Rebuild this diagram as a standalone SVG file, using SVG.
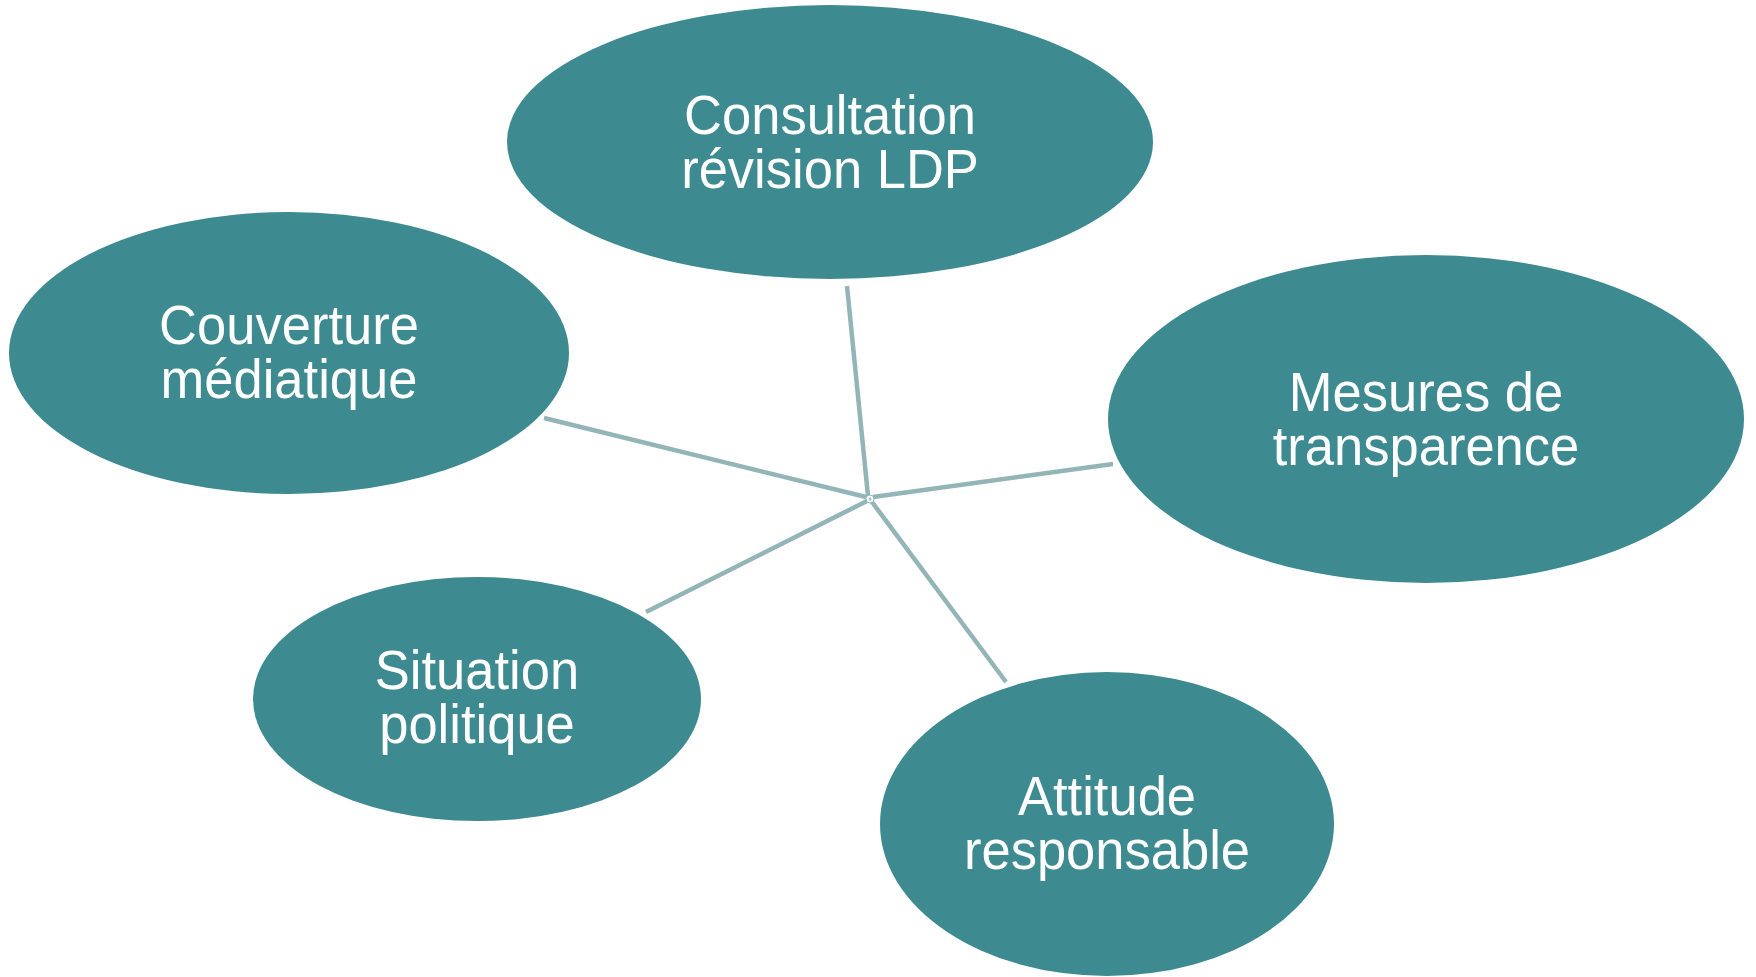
<svg xmlns="http://www.w3.org/2000/svg" width="1756" height="977" viewBox="0 0 1756 977">
<style>
.node{fill:#3D8B91}
.lbl{font-family:"Liberation Sans",Arial,sans-serif;font-size:55px;fill:#FFFFFF;text-anchor:middle}
.conn{stroke:#93B5B8;stroke-width:4.5;fill:none}
</style>
<rect width="1756" height="977" fill="#FFFFFF"/>
<g id="connectors">
<line class="conn" x1="868" y1="496" x2="847" y2="286"/>
<line class="conn" x1="866" y1="497" x2="544" y2="418"/>
<line class="conn" x1="873" y1="497" x2="1113" y2="464"/>
<line class="conn" x1="867" y1="501" x2="646" y2="612"/>
<line class="conn" x1="872" y1="502" x2="1006" y2="682"/>
<circle cx="870" cy="499" r="4" fill="#FFFFFF" stroke="#93B5B8" stroke-width="1"/>
<circle cx="870" cy="499" r="1.5" fill="#93C9CC"/>
</g>
<g id="n-consultation">
<ellipse class="node" cx="830" cy="142" rx="323" ry="137"/>
<g transform="translate(830,0) scale(0.955,1)">
<text class="lbl" x="0" y="134">Consultation</text>
<text class="lbl" x="0" y="188">révision LDP</text>
</g>
</g>
<g id="n-couverture">
<ellipse class="node" cx="289" cy="353" rx="280" ry="141"/>
<g transform="translate(289,0) scale(0.955,1)">
<text class="lbl" x="0" y="344">Couverture</text>
<text class="lbl" x="0" y="398">médiatique</text>
</g>
</g>
<g id="n-mesures">
<ellipse class="node" cx="1426" cy="419" rx="318" ry="164"/>
<g transform="translate(1426,0) scale(0.955,1)">
<text class="lbl" x="0" y="411">Mesures de</text>
<text class="lbl" x="0" y="465">transparence</text>
</g>
</g>
<g id="n-situation">
<ellipse class="node" cx="477" cy="699" rx="224" ry="122"/>
<g transform="translate(477,0) scale(0.955,1)">
<text class="lbl" x="0" y="689">Situation</text>
<text class="lbl" x="0" y="743">politique</text>
</g>
</g>
<g id="n-attitude">
<ellipse class="node" cx="1107" cy="824" rx="227" ry="152"/>
<g transform="translate(1107,0) scale(0.955,1)">
<text class="lbl" x="0" y="815">Attitude</text>
<text class="lbl" x="0" y="869">responsable</text>
</g>
</g>
</svg>
